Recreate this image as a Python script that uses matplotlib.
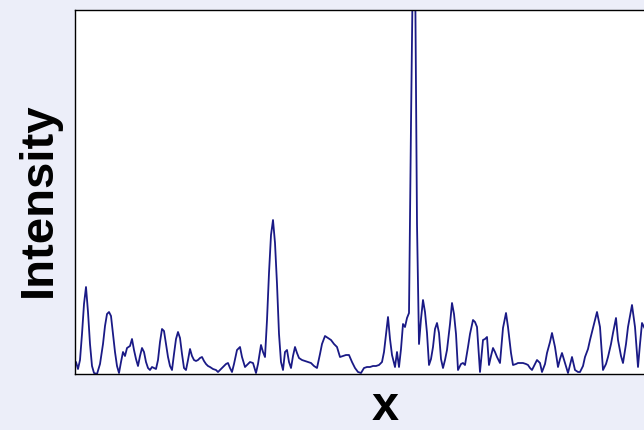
import matplotlib.pyplot as plt

# spectrum (channel, intensity)
channel = [0, 1, 3, 5, 7, 9, 11, 13, 15, 17, 19, 22, 25, 28, 30, 32, 34, 36, 38, 40,
           42, 44, 46, 48, 50, 52, 55, 57, 59, 61, 63, 65, 67, 69, 71, 73, 75, 77, 79, 81,
           83, 85, 87, 89, 91, 93, 95, 97, 99, 101, 103, 105, 107, 109, 111, 113, 115, 117, 119, 121,
           123, 125, 127, 129, 131, 133, 135, 138, 141, 143, 146, 148, 151, 153, 155, 157, 159, 162, 165, 167,
           170, 173, 175, 178, 181, 183, 186, 188, 190, 192, 194, 196, 198, 200, 202, 204, 206, 208, 210, 212,
           214, 216, 218, 220, 222, 224, 227, 230, 233, 236, 239, 242, 245, 247, 250, 253, 256, 259, 262, 265,
           268, 271, 274, 277, 280, 283, 286, 289, 292, 295, 298, 301, 304, 307, 309, 311, 313, 315, 317, 320,
           322, 324, 326, 328, 330, 332, 334, 336, 338, 340, 342, 344, 346, 348, 350, 352, 354, 356, 358, 360,
           362, 364, 366, 368, 370, 372, 375, 377, 379, 381, 383, 386, 388, 390, 393, 395, 398, 400, 402, 405,
           408, 410, 412, 414, 416, 418, 420, 422, 425, 428, 431, 433, 436, 438, 441, 443, 446, 448, 451, 453,
           455, 457, 460, 462, 465, 467, 470, 472, 475, 477, 480, 483, 485, 487, 490, 493, 495, 497, 500, 503,
           505, 508, 510, 513, 515, 519, 522, 525, 528, 531, 533, 536, 538, 541, 543, 546, 548, 551, 553, 557,
           560, 563, 565, 567, 570]
intensity = [12, 12, 5, 14, 40, 70, 87, 62, 30, 8, 1, 0, 10, 30, 48, 60, 62, 58, 40, 22,
             8, 1, 12, 22, 18, 26, 28, 35, 24, 15, 8, 18, 26, 22, 12, 6, 4, 7, 6, 5,
             14, 32, 45, 43, 30, 17, 8, 4, 20, 35, 42, 36, 20, 6, 4, 14, 25, 18, 14, 13,
             14, 16, 17, 13, 10, 8, 7, 5, 4, 2, 5, 7, 10, 11, 6, 2, 10, 24, 27, 17,
             7, 10, 12, 11, 1, 10, 29, 22, 17, 54, 101, 139, 154, 131, 90, 40, 12, 4, 22, 24,
             12, 6, 18, 27, 21, 16, 14, 13, 12, 11, 8, 6, 20, 30, 38, 36, 34, 30, 27, 17,
             18, 19, 19, 12, 6, 2, 1, 6, 7, 7, 8, 8, 9, 12, 22, 40, 57, 35, 19, 7,
             22, 7, 25, 50, 47, 56, 61, 250, 420, 420, 150, 30, 55, 74, 62, 41, 9, 15, 27, 45,
             51, 41, 15, 6, 14, 24, 50, 71, 60, 40, 4, 10, 11, 9, 27, 40, 54, 52, 47, 2,
             34, 35, 37, 9, 18, 26, 22, 17, 11, 46, 61, 47, 21, 9, 10, 11, 11, 11, 10, 9,
             6, 4, 10, 14, 11, 2, 10, 21, 32, 41, 27, 7, 15, 21, 11, 1, 9, 17, 4, 2,
             2, 8, 17, 25, 34, 50, 62, 47, 4, 10, 17, 30, 41, 56, 34, 18, 11, 30, 47, 69,
             47, 7, 30, 51, 45]

fig = plt.figure(figsize=(6.44, 4.30), dpi=100)
fig.patch.set_facecolor("#eceef9")

ax = fig.add_axes([75 / 644, 1 - 374 / 430, 620 / 644, 364 / 430])
ax.plot(channel, intensity, color="#1a1a86", linewidth=1.3)
ax.set_xlim(0, 620)
ax.set_ylim(0, 364)
ax.set_xticks([])
ax.set_yticks([])
for s in ax.spines.values():
    s.set_linewidth(1.0)
    s.set_color("black")

ax.set_ylabel("Intensity", fontsize=34, fontweight="bold", family="Liberation Sans", va="center")
ax.yaxis.set_label_coords(-0.058, 0.48)
ax.set_xlabel("x", fontsize=35, fontweight="bold", family="Liberation Sans", va="baseline")
ax.xaxis.set_label_coords(0.5, -0.126)

fig.savefig("out.png", dpi=100, facecolor=fig.get_facecolor())
